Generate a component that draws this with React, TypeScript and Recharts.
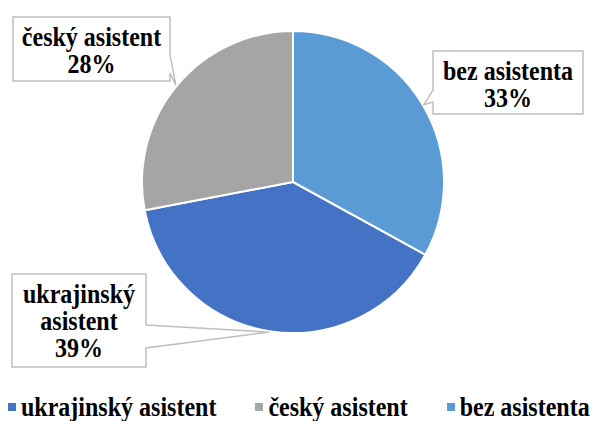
import React from 'react';
import { PieChart, Pie, Cell, Legend } from 'recharts';

const categories = ['ukrajinský asistent', 'český asistent', 'bez asistenta'];
const shares = [39, 28, 33];
const colors = ['#4472C4', '#A5A5A5', '#5B9BD5'];

const data = categories.map((name, i) => ({ name, value: shares[i] }));

const FONT = "'Liberation Serif', 'DejaVu Serif', 'Times New Roman', Times, serif";
const RAD = Math.PI / 180;
const STRETCH = 1.1;

// callout box layout (per slice index)
const CALLOUTS = [
  { x: 12, y: 274, w: 134, h: 93, side: 'right', b1: 325, b2: 348, wrap: true },
  { x: 13, y: 17, w: 157, h: 64, side: 'right', b1: 55, b2: 73, wrap: false },
  { x: 433, y: 51, w: 150, h: 63, side: 'left', b1: 90, b2: 102, wrap: false },
];

const renderLabel = (props: any) => {
  const { cx, cy, midAngle, outerRadius, index, name, value } = props;
  const c = CALLOUTS[index];
  if (!c) return null;
  const tx = cx + (outerRadius + 1) * Math.cos(-midAngle * RAD);
  const ty = cy + (outerRadius + 1) * Math.sin(-midAngle * RAD);
  const { x, y, w, h, b1, b2 } = c;
  const d =
    c.side === 'right'
      ? `M${x},${y} H${x + w} V${b1} L${tx},${ty} L${x + w},${b2} V${y + h} H${x} Z`
      : `M${x},${y} H${x + w} V${y + h} H${x} V${b2} L${tx},${ty} L${x},${b1} Z`;
  const lines: string[] = c.wrap ? String(name).split(' ') : [String(name)];
  lines.push(`${value}%`);
  return (
    <g key={`callout-${index}`}>
      <path d={d} fill="#fff" stroke="#BFBFBF" strokeWidth={1.5} />
      {lines.map((t, i) => (
        <g key={i} transform={`translate(${x + w / 2},${y + 29 + i * 27}) scale(1,${STRETCH})`}>
          <text
            x={0}
            y={0}
            textAnchor="middle"
            style={{ fontFamily: FONT, fontWeight: 'bold', fontSize: 24 }}
            fill="#000"
          >
            {t}
          </text>
        </g>
      ))}
    </g>
  );
};

const renderLegend = () => (
  <div
    style={{
      display: 'flex',
      gap: 39,
      alignItems: 'center',
      fontFamily: FONT,
      fontWeight: 'bold',
      fontSize: 24,
      lineHeight: '22px',
      color: '#000',
      whiteSpace: 'nowrap',
    }}
  >
    {categories.map((name, i) => (
      <div key={name} style={{ display: 'flex', alignItems: 'center' }}>
        <span
          style={{
            width: 8,
            height: 8,
            background: colors[i],
            marginRight: 5,
            display: 'inline-block',
          }}
        />
        <span style={{ display: 'inline-block', transform: `scaleY(${STRETCH})` }}>{name}</span>
      </div>
    ))}
  </div>
);

export default function App() {
  return (
    <div style={{ position: 'absolute', left: 0, top: 0, background: '#fff' }}>
      <PieChart width={591} height={421} margin={{ top: 0, right: 0, bottom: 0, left: 0 }}>
        <Pie
          data={data}
          dataKey="value"
          nameKey="name"
          cx={293}
          cy={182}
          outerRadius={151}
          startAngle={-28.8}
          endAngle={-388.8}
          stroke="#fff"
          strokeWidth={2}
          label={renderLabel}
          labelLine={false}
          isAnimationActive={false}
        >
          {data.map((d, i) => (
            <Cell key={d.name} fill={colors[i]} />
          ))}
        </Pie>
        <Legend
          content={renderLegend}
          wrapperStyle={{ position: 'absolute', left: 8, top: 396, width: 583, bottom: 'auto' }}
        />
      </PieChart>
    </div>
  );
}
